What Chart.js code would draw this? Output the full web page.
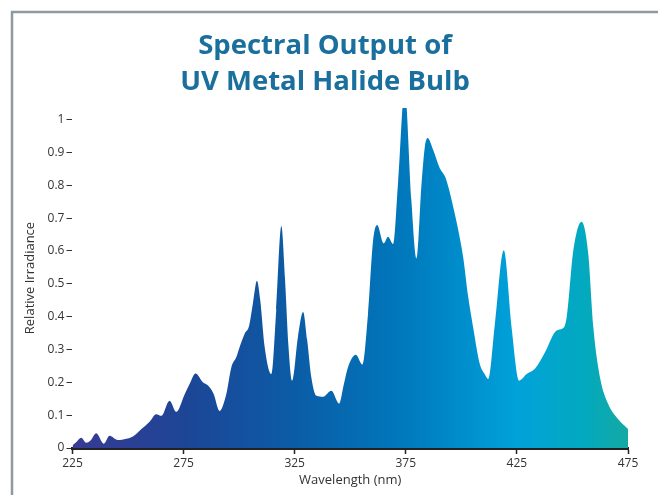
<!DOCTYPE html>
<html>
<head>
<meta charset="utf-8">
<script src="https://cdn.jsdelivr.net/npm/chart.js@4/dist/chart.umd.min.js"></script>
<style>
  html, body { margin: 0; padding: 0; background: #fff; }
  #wrap { width: 658px; height: 495px; position: relative; }
</style>
</head>
<body>
<div id="wrap"><canvas id="graph"></canvas></div>
<script>
// wavelength (nm) and relative irradiance
const wavelengths = [225, 227, 228.9, 231.2, 233, 235.7, 239.1, 241.7, 245.4, 249.2, 252.2, 255.9, 259.7, 262.7, 265, 268.7, 271.7, 275.5, 277.7, 280.4, 283.7, 286, 288.5, 291.2, 294.2, 296.5, 298.7, 300.2, 302.5, 304.5, 306.2, 308, 309.5, 311.5, 314.5, 316.7, 319, 320.6, 322.2, 323.8, 326.5, 328.8, 330.6, 332.5, 334.8, 337.8, 341.5, 345, 347, 349, 352.5, 355.5, 358, 360.3, 362.1, 365.1, 367, 369.3, 371.5, 374.5, 377.5, 379.8, 382.1, 383.6, 384.8, 387.3, 390.3, 392.6, 394.1, 396.3, 398.6, 400.8, 403.1, 405.3, 408.3, 410.5, 412.1, 415.1, 419.1, 422.6, 426, 429.4, 433.1, 437.6, 442.9, 445.9, 447.4, 450.4, 454.1, 457.1, 459.4, 462.4, 466.1, 469.9, 475];
const irradiance = [0.008, 0.02, 0.031, 0.016, 0.022, 0.045, 0.013, 0.037, 0.024, 0.028, 0.035, 0.057, 0.08, 0.103, 0.098, 0.144, 0.11, 0.164, 0.195, 0.227, 0.2, 0.19, 0.165, 0.113, 0.164, 0.246, 0.276, 0.307, 0.348, 0.372, 0.44, 0.509, 0.45, 0.307, 0.225, 0.42, 0.676, 0.52, 0.31, 0.205, 0.34, 0.414, 0.33, 0.215, 0.159, 0.156, 0.174, 0.135, 0.19, 0.246, 0.284, 0.254, 0.409, 0.633, 0.679, 0.623, 0.643, 0.621, 0.806, 1.09, 0.755, 0.577, 0.806, 0.918, 0.944, 0.908, 0.852, 0.827, 0.796, 0.735, 0.664, 0.582, 0.46, 0.368, 0.256, 0.225, 0.21, 0.378, 0.602, 0.368, 0.205, 0.225, 0.241, 0.291, 0.358, 0.365, 0.398, 0.602, 0.689, 0.592, 0.368, 0.215, 0.134, 0.093, 0.058];
const yTicks = [0, 0.1, 0.2, 0.3, 0.4, 0.5, 0.6, 0.7, 0.8, 0.9, 1];
const titleLines = ['Spectral Output of', 'UV Metal Halide Bulb'];

const points = wavelengths.map((w, i) => ({ x: w, y: irradiance[i] }));

const fontFam = '"Open Sans", "DejaVu Sans", sans-serif';

// grey frame around the whole figure
const framePlugin = {
  id: 'frame',
  beforeDraw(chart) {
    const c = chart.ctx;
    c.save();
    c.strokeStyle = '#8e9aa0';
    c.lineWidth = 2.5;
    c.strokeRect(12, 12, 700, 600);
    c.restore();
  }
};

function spectrumFill(context) {
  const area = context.chart.chartArea;
  if (!area) return '#0a60a8';
  const g = context.chart.ctx.createLinearGradient(area.left, 0, area.right, 0);
  g.addColorStop(0, '#383a94');
  g.addColorStop(0.2, '#1d4596');
  g.addColorStop(0.4, '#0b5ca6');
  g.addColorStop(0.6, '#0079bd');
  g.addColorStop(0.8, '#00a2da');
  g.addColorStop(0.92, '#03a9bf');
  g.addColorStop(1, '#14a9a3');
  return g;
}

const ctx = document.getElementById('graph').getContext('2d');
const chart = new Chart(ctx, {
  type: 'line',
  data: {
    datasets: [{
      data: points,
      fill: 'origin',
      backgroundColor: spectrumFill,
      borderWidth: 0,
      pointRadius: 0,
      cubicInterpolationMode: 'monotone'
    }]
  },
  options: {
    responsive: true,
    maintainAspectRatio: false,
    animation: false,
    layout: { padding: { top: 28, right: 30, bottom: 7, left: 22 } },
    plugins: {
      legend: { display: false },
      tooltip: { enabled: false },
      title: {
        display: true,
        text: titleLines,
        color: '#1b6f9c',
        font: { family: fontFam, size: 27.5, weight: 'bold', lineHeight: 1.31 },
        padding: { top: 0, bottom: 8 }
      }
    },
    scales: {
      x: {
        type: 'linear',
        min: 225,
        max: 475,
        ticks: { stepSize: 50, color: '#333', font: { family: fontFam, size: 12 }, padding: 2, maxRotation: 0 },
        grid: { drawOnChartArea: false, drawTicks: true, tickLength: 6, tickColor: '#222', tickWidth: 1.5 },
        border: { display: true, color: '#222', width: 3 },
        title: { display: true, text: 'Wavelength (nm)', color: '#333', font: { family: fontFam, size: 13 }, padding: { top: 0, bottom: 0 } }
      },
      y: {
        min: 0,
        max: 1.035,
        afterBuildTicks: (scale) => {
          scale.ticks = yTicks.map(v => ({ value: v }));
        },
        ticks: {
          color: '#333',
          font: { family: fontFam, size: 12 },
          padding: 2,
          callback: (v) => String(Math.round(v * 10) / 10)
        },
        grid: { drawOnChartArea: false, drawTicks: true, tickLength: 6, tickColor: '#333', tickWidth: 1 },
        border: { display: false },
        title: { display: true, text: 'Relative Irradiance', color: '#333', font: { family: fontFam, size: 13 }, padding: { top: 0, bottom: 8 } }
      }
    }
  },
  plugins: [framePlugin]
});
</script>
</body>
</html>
